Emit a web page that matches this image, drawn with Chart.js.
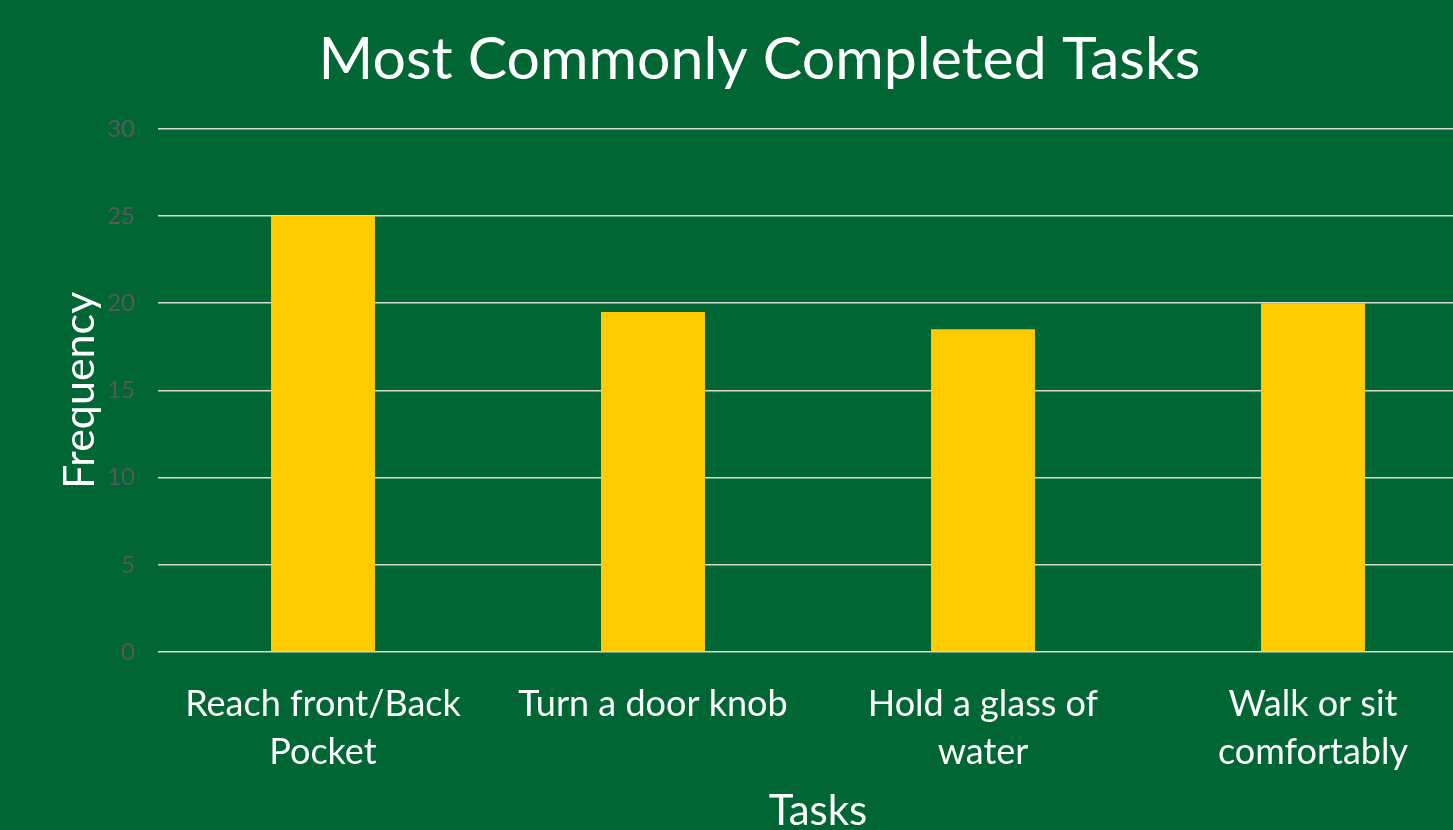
<!DOCTYPE html>
<html>
<head>
<meta charset="utf-8">
<script src="https://cdn.jsdelivr.net/npm/chart.js@4/dist/chart.umd.min.js"></script>
<style>
  html, body { margin: 0; padding: 0; overflow: hidden; background: #006633; }
  #wrap { width: 1453px; height: 830px; overflow: hidden; position: relative; }
  canvas { display: block; }
</style>
</head>
<body>
<div id="wrap"><canvas id="c" width="1519" height="830"></canvas></div>
<script>
const categories = [
  ["Reach front/Back", "Pocket"],
  ["Turn a door knob"],
  ["Hold a glass of", "water"],
  ["Walk or sit", "comfortably"]
];
const frequency = [25, 19.5, 18.5, 20];
const yTicks = [0, 5, 10, 15, 20, 25, 30];

const bgPlugin = {
  id: 'bg',
  beforeDraw(chart) {
    const ctx = chart.ctx;
    ctx.save();
    ctx.fillStyle = '#006633';
    ctx.fillRect(0, 0, chart.width, chart.height);
    ctx.restore();
  }
};

new Chart(document.getElementById('c'), {
  type: 'bar',
  data: {
    labels: categories,
    datasets: [{
      label: 'Frequency',
      data: frequency,
      backgroundColor: '#FFCC00',
      borderWidth: 0,
      barPercentage: 0.315,
      categoryPercentage: 1
    }]
  },
  options: {
    responsive: false,
    animation: false,
    layout: { padding: { left: 41, right: 41, top: 0, bottom: 0 } },
    plugins: {
      legend: { display: false },
      tooltip: { enabled: false },
      title: {
        display: true,
        text: 'Most Commonly Completed Tasks',
        color: '#ffffff',
        font: { family: 'Lato', size: 59, weight: 'normal', lineHeight: 1.2 },
        padding: { top: 25, bottom: 33 }
      }
    },
    scales: {
      x: {
        grid: { display: false, drawTicks: false },
        border: { display: false },
        ticks: {
          color: '#ffffff',
          font: { family: 'Lato', size: 36, lineHeight: 1.333 },
          padding: 28,
          maxRotation: 0,
          autoSkip: false
        },
        title: {
          display: true,
          text: 'Tasks',
          color: '#ffffff',
          font: { family: 'Lato', size: 42, lineHeight: 0.86 },
          padding: { top: 0, bottom: 0 }
        },
        afterFit(scale) { scale.height = 178; }
      },
      y: {
        min: 0,
        max: 30,
        afterBuildTicks(scale) { scale.ticks = yTicks.map(v => ({ value: v })); },
        grid: { color: '#d9d9d9', lineWidth: 1.5, drawTicks: false },
        border: { display: false },
        ticks: {
          color: '#595959',
          font: { family: 'Lato', size: 24 },
          padding: 23
        },
        title: {
          display: true,
          text: 'Frequency',
          color: '#ffffff',
          font: { family: 'Lato', size: 43, lineHeight: 1.2 },
          padding: { top: 13, bottom: 0 }
        },
        afterFit(scale) { scale.width = 117; }
      }
    }
  },
  plugins: [bgPlugin]
});
</script>
</body>
</html>
